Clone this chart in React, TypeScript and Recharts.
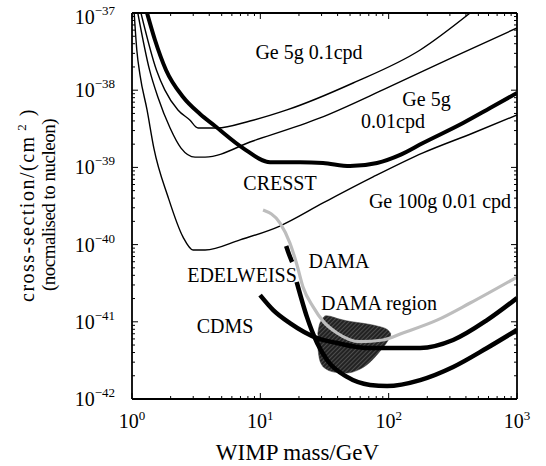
import React from 'react';
import { ComposedChart, Line, Area, XAxis, YAxis, Customized } from 'recharts';

const FONT = "'Liberation Serif', 'Times New Roman', Times, serif";

// WIMP mass (GeV) / cross-section (cm^2) pairs
const ge5g01cpd = [
  { m: 1.175, s: 1.0e-37 }, { m: 1.55, s: 1.83e-38 }, { m: 1.8, s: 1.01e-38 },
  { m: 2.28, s: 5.55e-39 }, { m: 2.82, s: 4.11e-39 }, { m: 3.27, s: 3.24e-39 },
  { m: 4.6, s: 3.24e-39 }, { m: 8.31, s: 3.99e-39 }, { m: 16.1, s: 5.55e-39 },
  { m: 52.8, s: 1.24e-38 }, { m: 176, s: 3.32e-38 }, { m: 431, s: 1.0e-37 },
];

const ge5g001cpd = [
  { m: 1.11, s: 1.0e-37 }, { m: 1.37, s: 1.83e-38 }, { m: 1.59, s: 8.17e-39 },
  { m: 1.98, s: 3.24e-39 }, { m: 2.41, s: 1.78e-39 }, { m: 3.1, s: 1.36e-39 },
  { m: 3.71, s: 1.36e-39 }, { m: 8.77, s: 2.2e-39 }, { m: 29.2, s: 4.37e-39 },
  { m: 97.2, s: 1.07e-38 }, { m: 318, s: 2.69e-38 }, { m: 1000, s: 6.4e-38 },
];

const ge100g = [
  { m: 1.04, s: 1.0e-37 }, { m: 1.09, s: 3.32e-38 }, { m: 1.155, s: 1.57e-38 },
  { m: 1.31, s: 5.55e-39 }, { m: 1.48, s: 1.78e-39 }, { m: 1.91, s: 4.14e-40 },
  { m: 2.5, s: 1.25e-40 }, { m: 2.99, s: 8.51e-41 }, { m: 3.71, s: 8.5e-41 },
  { m: 6.95, s: 1.15e-40 }, { m: 14.2, s: 1.74e-40 }, { m: 30.8, s: 3.46e-40 },
  { m: 75.6, s: 7.52e-40 }, { m: 185, s: 1.54e-39 }, { m: 455, s: 2.79e-39 },
  { m: 1000, s: 4.78e-39 },
];

const cresst = [
  { m: 1.31, s: 1.0e-37 }, { m: 1.51, s: 4.47e-38 }, { m: 1.84, s: 1.83e-38 },
  { m: 2.5, s: 8.17e-39 }, { m: 3.39, s: 4.92e-39 }, { m: 4.43, s: 3.44e-39 },
  { m: 7.33, s: 1.78e-39 }, { m: 11.9, s: 1.17e-39 }, { m: 20.4, s: 1.17e-39 },
  { m: 30.8, s: 1.14e-39 }, { m: 50.0, s: 1.04e-39 }, { m: 81.2, s: 1.14e-39 },
  { m: 123, s: 1.45e-39 }, { m: 185, s: 2.07e-39 }, { m: 380, s: 3.76e-39 },
  { m: 617, s: 5.88e-39 }, { m: 1000, s: 9.21e-39 },
];

const edelweissUpper = [
  { m: 15.9, s: 9.59e-41 }, { m: 16.7, s: 7.55e-41 }, { m: 17.7, s: 5.95e-41 },
];

const edelweissLower = [
  { m: 19.2, s: 3.28e-41 }, { m: 23.1, s: 1.15e-41 }, { m: 27.7, s: 5.31e-42 },
  { m: 33.1, s: 3.2e-42 }, { m: 47.4, s: 1.93e-42 }, { m: 71.6, s: 1.52e-42 },
  { m: 97.2, s: 1.47e-42 }, { m: 176, s: 1.76e-42 }, { m: 318, s: 2.6e-42 },
  { m: 584, s: 4.58e-42 }, { m: 1000, s: 7.83e-42 },
];

const cdms = [
  { m: 9.95, s: 2.22e-41 }, { m: 12.6, s: 1.42e-41 }, { m: 17.0, s: 9.64e-42 },
  { m: 27.7, s: 6.16e-42 }, { m: 39.6, s: 5.31e-42 }, { m: 67.9, s: 4.58e-42 },
  { m: 102, s: 4.58e-42 }, { m: 176, s: 4.58e-42 }, { m: 318, s: 5.81e-42 },
  { m: 584, s: 1.05e-41 }, { m: 1000, s: 2.03e-41 },
];

const damaLimit = [
  { m: 10.5, s: 2.81e-40 }, { m: 14.2, s: 1.91e-40 }, { m: 17.0, s: 1.05e-40 },
  { m: 19.3, s: 5.45e-41 }, { m: 21.5, s: 2.82e-41 }, { m: 25.8, s: 1.56e-41 },
  { m: 30.8, s: 1.02e-41 }, { m: 39.6, s: 7.16e-42 }, { m: 59.8, s: 5.52e-42 },
  { m: 90.4, s: 5.81e-42 }, { m: 129, s: 7.16e-42 }, { m: 238, s: 1.05e-41 },
  { m: 431, s: 1.75e-41 }, { m: 1000, s: 3.8e-41 },
];

const damaRegion = [
  { m: 28.0, lo: 4.9e-42, hi: 7.0e-42 },
  { m: 28.6, lo: 3.6e-42, hi: 8.6e-42 },
  { m: 30.0, lo: 2.8e-42, hi: 1.05e-41 },
  { m: 32.5, lo: 2.45e-42, hi: 1.2e-41 },
  { m: 35.0, lo: 2.3e-42, hi: 1.18e-41 },
  { m: 40.0, lo: 2.2e-42, hi: 1.1e-41 },
  { m: 47.0, lo: 2.17e-42, hi: 1.03e-41 },
  { m: 57.0, lo: 2.35e-42, hi: 9.8e-42 },
  { m: 70.0, lo: 2.9e-42, hi: 9.3e-42 },
  { m: 84.0, lo: 4.0e-42, hi: 8.7e-42 },
  { m: 98.0, lo: 5.6e-42, hi: 7.9e-42 },
  { m: 104.0, lo: 6.6e-42, hi: 7.0e-42 },
];

const xTicks = [
  1, 2, 3, 4, 5, 6, 7, 8, 9,
  10, 20, 30, 40, 50, 60, 70, 80, 90,
  100, 200, 300, 400, 500, 600, 700, 800, 900, 1000,
];

const yTicks = [
  1e-42, 2e-42, 3e-42, 4e-42, 5e-42, 6e-42, 7e-42, 8e-42, 9e-42,
  1e-41, 2e-41, 3e-41, 4e-41, 5e-41, 6e-41, 7e-41, 8e-41, 9e-41,
  1e-40, 2e-40, 3e-40, 4e-40, 5e-40, 6e-40, 7e-40, 8e-40, 9e-40,
  1e-39, 2e-39, 3e-39, 4e-39, 5e-39, 6e-39, 7e-39, 8e-39, 9e-39,
  1e-38, 2e-38, 3e-38, 4e-38, 5e-38, 6e-38, 7e-38, 8e-38, 9e-38,
  1e-37,
];

const isMajor = (v: number) => {
  const lg = Math.log10(v);
  return Math.abs(lg - Math.round(lg)) < 1e-6;
};

const XTickBottom = (props: any) => {
  const { x, y, payload } = props;
  const v = payload.value;
  const major = isMajor(v);
  const e = Math.round(Math.log10(v));
  return (
    <g>
      <line x1={x} y1={y} x2={x} y2={y - (major ? 6 : 3)} stroke="#000" strokeWidth={1} />
      {major && (
        <text x={x} y={y + 29} textAnchor="middle" fontFamily={FONT} fontSize={20} fill="#000">
          10<tspan dy={-8} fontSize={13}>{e}</tspan>
        </text>
      )}
    </g>
  );
};

const XTickTop = (props: any) => {
  const { x, y, payload } = props;
  const major = isMajor(payload.value);
  return <line x1={x} y1={y} x2={x} y2={y + (major ? 6 : 3)} stroke="#000" strokeWidth={1} />;
};

const YTickLeft = (props: any) => {
  const { x, y, payload } = props;
  const v = payload.value;
  const major = isMajor(v);
  const e = Math.round(Math.log10(v));
  const base = e === -37 ? 11 : 7;
  return (
    <g>
      <line x1={x} y1={y} x2={x + (major ? 6 : 3)} y2={y} stroke="#000" strokeWidth={1} />
      {major && (
        <text x={x - 17} y={y + base} textAnchor="end" fontFamily={FONT} fontSize={20} fill="#000">
          10<tspan dy={-9} fontSize={13}>{'\u2212' + Math.abs(e)}</tspan>
        </text>
      )}
    </g>
  );
};

const YTickRight = (props: any) => {
  const { x, y, payload } = props;
  const major = isMajor(payload.value);
  return <line x1={x} y1={y} x2={x - (major ? 6 : 3)} y2={y} stroke="#000" strokeWidth={1} />;
};

const Annotations = () => (
  <g fontFamily={FONT} fill="#000" fontSize={20}>
    <text x={309} y={59} textAnchor="middle">Ge 5g 0.1cpd</text>
    <text x={426.5} y={106} textAnchor="middle">Ge 5g</text>
    <text x={393} y={128} textAnchor="middle">0.01cpd</text>
    <text x={280} y={190} textAnchor="middle">CRESST</text>
    <text x={440} y={208} textAnchor="middle">Ge 100g 0.01 cpd</text>
    <text x={339} y={268} textAnchor="middle">DAMA</text>
    <text x={242} y={282} textAnchor="middle">EDELWEISS</text>
    <text x={379} y={310} textAnchor="middle">DAMA region</text>
    <text x={225} y={333} textAnchor="middle">CDMS</text>
    <text x={297.5} y={460} textAnchor="middle" fontSize={23}>WIMP mass/GeV</text>
    <text x={34} y={205} textAnchor="middle" letterSpacing={1.5} transform="rotate(-90 34 205)">
      cross-section/(cm<tspan dy={-8} fontSize={13}> 2</tspan><tspan dy={8}> )</tspan>
    </text>
    <text x={55} y={205} textAnchor="middle" fontSize={19} letterSpacing={-0.5} transform="rotate(-90 55 205)">
      (nocmalised to nucleon)
    </text>
  </g>
);

const lineCommon = {
  type: 'monotone' as const,
  dataKey: 's',
  dot: false,
  activeDot: false,
  isAnimationActive: false,
  stroke: '#000',
};

export default function App() {
  return (
    <div style={{ position: 'absolute', left: 0, top: 0, width: 546, height: 466 }}>
      <ComposedChart
        width={546}
        height={466}
        margin={{ top: 12, right: 28, bottom: 0, left: 0 }}
        style={{ fontFamily: FONT }}
      >
        <defs>
          <pattern id="hatch" width="3" height="3" patternUnits="userSpaceOnUse" patternTransform="rotate(45)">
            <rect width="3" height="3" fill="#222" />
            <line x1="0" y1="0" x2="0" y2="3" stroke="#777" strokeWidth="1" />
          </pattern>
        </defs>
        <XAxis
          xAxisId="b"
          dataKey="m"
          type="number"
          scale="log"
          domain={[1, 1000]}
          allowDataOverflow
          ticks={xTicks}
          interval={0}
          tickSize={0}
          tickMargin={0}
          tickLine={false}
          tick={<XTickBottom />}
          height={67}
          axisLine={{ stroke: '#000', strokeWidth: 1.8 }}
        />
        <XAxis
          xAxisId="t"
          orientation="top"
          dataKey="m"
          type="number"
          scale="log"
          domain={[1, 1000]}
          allowDataOverflow
          ticks={xTicks}
          interval={0}
          tickSize={0}
          tickMargin={0}
          tickLine={false}
          tick={<XTickTop />}
          height={1}
          axisLine={{ stroke: '#000', strokeWidth: 1.8 }}
        />
        <YAxis
          yAxisId="l"
          type="number"
          scale="log"
          domain={[1e-42, 1e-37]}
          allowDataOverflow
          ticks={yTicks}
          interval={0}
          tickSize={0}
          tickMargin={0}
          tickLine={false}
          tick={<YTickLeft />}
          width={132}
          axisLine={{ stroke: '#000', strokeWidth: 1.8 }}
        />
        <YAxis
          yAxisId="r"
          orientation="right"
          type="number"
          scale="log"
          domain={[1e-42, 1e-37]}
          allowDataOverflow
          ticks={yTicks}
          interval={0}
          tickSize={0}
          tickMargin={0}
          tickLine={false}
          tick={<YTickRight />}
          width={1}
          axisLine={{ stroke: '#000', strokeWidth: 1.8 }}
        />
        <Area
          xAxisId="b"
          yAxisId="l"
          data={damaRegion}
          dataKey={(d: any) => [d.lo, d.hi]}
          type="monotone"
          stroke="#333"
          strokeWidth={0.5}
          fill="url(#hatch)"
          fillOpacity={1}
          isAnimationActive={false}
          dot={false}
          activeDot={false}
        />
        <Line {...lineCommon} xAxisId="b" yAxisId="l" data={ge5g01cpd} strokeWidth={1.4} />
        <Line {...lineCommon} xAxisId="b" yAxisId="l" data={ge5g001cpd} strokeWidth={1.4} />
        <Line {...lineCommon} xAxisId="b" yAxisId="l" data={ge100g} strokeWidth={1.4} />
        <Line {...lineCommon} xAxisId="b" yAxisId="l" data={cresst} strokeWidth={4} />
        <Line {...lineCommon} xAxisId="b" yAxisId="l" data={edelweissUpper} strokeWidth={4.5} />
        <Line {...lineCommon} xAxisId="b" yAxisId="l" data={edelweissLower} strokeWidth={4.5} />
        <Line {...lineCommon} xAxisId="b" yAxisId="l" data={cdms} strokeWidth={4.5} />
        <Line {...lineCommon} xAxisId="b" yAxisId="l" data={damaLimit} strokeWidth={3.2} stroke="#bdbdbd" />
        <Customized component={Annotations} />
      </ComposedChart>
    </div>
  );
}
